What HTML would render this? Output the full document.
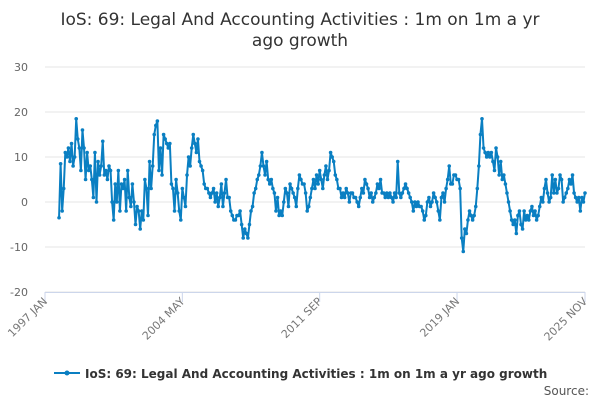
<!DOCTYPE html>
<html><head><meta charset="utf-8"><style>
body{margin:0;background:#fff;font-family:"Liberation Sans",sans-serif;}
svg text{font-family:"DejaVu Sans","Liberation Sans",sans-serif;}
</style></head><body>
<svg id="c" width="600" height="400">
<text x="300" y="25" text-anchor="middle" font-size="17" fill="#333">IoS: 69: Legal And Accounting Activities : 1m on 1m a yr</text>
<text x="300" y="46" text-anchor="middle" font-size="17" fill="#333">ago growth</text>
<g id="grid"></g><g id="xa"></g><g id="series"></g>
<g>
<line x1="54" y1="373" x2="80" y2="373" stroke="#0a7fc2" stroke-width="2"/>
<circle cx="67" cy="373" r="2.5" fill="#0a7fc2"/>
<text x="85" y="378" font-size="12" font-weight="bold" fill="#333">IoS: 69: Legal And Accounting Activities : 1m on 1m a yr ago growth</text>
</g>
<text x="589" y="395" text-anchor="end" font-size="12" fill="#555">Source:</text>
</svg>
<script>
const yTicks=[30,20,10,0,-10,-20];
const xLabels=["1997 JAN","2004 MAY","2011 SEP","2019 JAN","2025 NOV"];
const xLabelMonths=[0,88,176,264,346];
const startMonth=9;
const values=[-3.5,8.5,-2,3,11,10,12,9,13,8,10,18.5,14,12,7,16,12,5,11,7,8,5,1,11,0,9,6,8,13.5,6,7,5,
8,7,0,-4,4,0,7,-2,4,3,5,-2,7,1,-1,4,0,-5,-1,
-2,-6,-2,-4,5,3,-3,9,3,8,15,17,18,7,12,6,15,14,13,12,13,4,3,-2,5,2,
-2,-4,3,1,-1,6,10,8,12,15,13,11,14,9,8,7,4,3,3,2,1,2,3,0,2,-1,
1,4,-1,2,5,1,1,-2,-3,-4,-4,-3,-3,-2,-5,-8,-6,-7,-8,-5,-2,-1,2,3,5,6,
8,11,8,6,9,5,4,5,3,2,-2,1,-3,-2,-3,0,3,2,-1,
4,3,2,1,-1,3,6,5,4,4,2,-2,-1,1,3,5,3,6,4,
7,5,3,6,8,5,7,11,10,9,6,5,3,3,1,2,1,3,2,0,2,2,1,1,0,-1,
1,3,2,5,4,3,1,2,0,1,2,4,3,5,2,2,1,2,1,2,1,0,2,1,9,2,
1,2,3,4,3,2,1,0,-2,0,-1,0,-1,-1,-2,-4,-3,0,1,-1,0,2,1,0,-2,-4,
1,2,0,3,5,8,4,4,6,6,5,5,3,-8,-11,-6,-7,-4,-2,
-3,-4,-3,-1,3,8,15,18.5,12,11,10,11,10,11,9,7,12,10,6,
9,5,6,4,2,0,-2,-4,-5,-4,-7,-3,-2,-5,-6,-2,-4,-3,-4,-2,-1,-3,-2,-4,-3,-1,
1,0,3,5,2,0,1,6,2,5,2,3,6,5,0,1,2,3,5,4,6,2,1,0,1,-2,1,0,2];
const NS="http://www.w3.org/2000/svg";
const X0=45,X1=585,Y0=202,PY=4.5;
const xs=m=>X0+(X1-X0)*m/346;
const ys=v=>Y0-v*PY;
function mk(t,a,p){const e=document.createElementNS(NS,t);for(const k in a)e.setAttribute(k,a[k]);p.appendChild(e);return e;}
const grid=document.getElementById('grid');
yTicks.forEach(v=>{
 const l=mk('line',{x1:X0,x2:X1,y1:ys(v),y2:ys(v),stroke:'#e6e6e6','stroke-width':1},grid);
 
 
 const t=mk('text',{x:28,y:ys(v)+4,'text-anchor':'end','font-size':11,fill:'#666'},grid);
 t.textContent=v;
 
 
});
const xa=document.getElementById('xa');
const ax=mk('line',{x1:X0,x2:X1,y1:292.5,y2:292.5,stroke:'#ccd6eb'},xa);


xLabels.forEach((s,i)=>{
 const x=xs(xLabelMonths[i]);
 const tk=mk('line',{x1:x,x2:x,y1:292,y2:302,stroke:'#ccd6eb'},xa);
 
 
 const t=mk('text',{x:x+3,y:302,'text-anchor':'end','font-size':11,fill:'#777',transform:`rotate(-45 ${x+3} 302)`},xa);
 t.textContent=s;
 
 
});
const g=document.getElementById('series');
const pts=values.map((v,i)=>[xs(startMonth+i),ys(v)]);
const pl=mk('polyline',{points:pts.map(p=>p.join(',')).join(' '),fill:'none',stroke:'#0a7fc2','stroke-width':2,'stroke-linejoin':'round'},g);


pts.forEach(p=>{
 const c=mk('circle',{cx:p[0],cy:p[1],r:1.8,fill:'#0a7fc2'},g);
 
 
});
</script>
</body></html>
